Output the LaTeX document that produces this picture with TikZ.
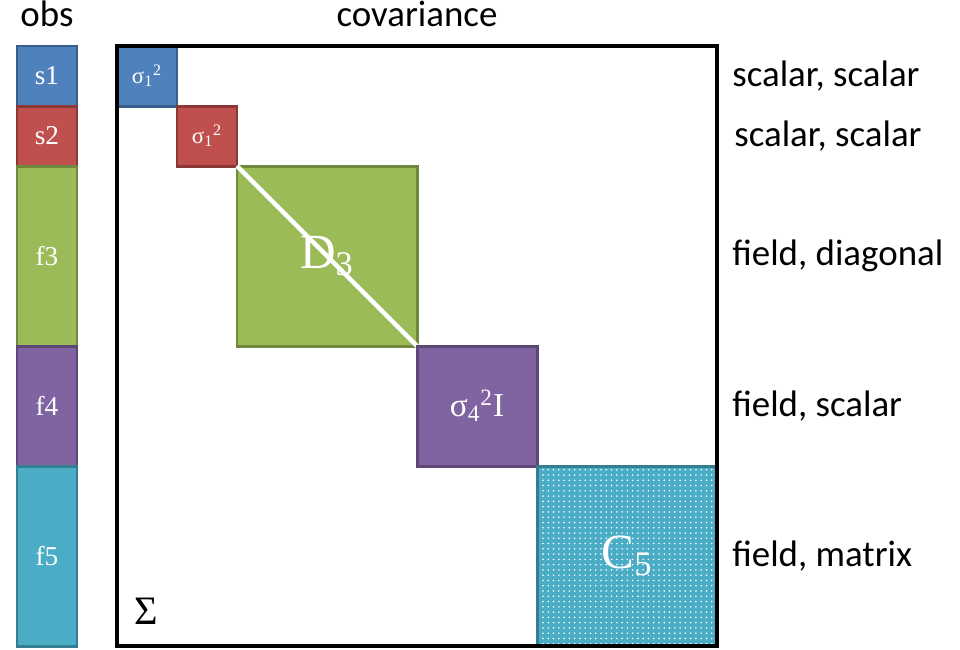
\documentclass[tikz,border=0pt]{standalone}
\usepackage{fontspec}
\setmainfont{Carlito}
\newfontfamily\cellfont{Liberation Serif}
\usepackage{tikz}
\usetikzlibrary{positioning,patterns}

\definecolor{sblue}{HTML}{4F81BD}
\definecolor{sblueline}{HTML}{385D8A}
\definecolor{sred}{HTML}{C0504D}
\definecolor{sredline}{HTML}{8C3836}
\definecolor{sgreen}{HTML}{9BBB59}
\definecolor{sgreenline}{HTML}{71893F}
\definecolor{spurple}{HTML}{8064A2}
\definecolor{spurpleline}{HTML}{5C4776}
\definecolor{steal}{HTML}{4BACC6}
\definecolor{stealline}{HTML}{357D91}

\begin{document}
\begin{tikzpicture}
[node distance = 0cm, font=\fontsize{21}{24}\selectfont,
% STYLES
% The obsbox style is used for the observation column
obsbox/.style={rectangle, draw, line width=1.7pt, inner sep=0pt, outer sep=0pt, minimum width=1.2cm, text=white, font=\cellfont\fontsize{15.5}{18}\selectfont},
% The block style is used for the blocks of the covariance
block/.style={rectangle, draw, line width=1.7pt, inner sep=0pt, outer sep=0pt, text=white, font=\cellfont\fontsize{19}{21}\selectfont},
% The note style is used for the kinds on the right
note/.style={rectangle, inner sep=0pt, anchor=west, xshift=0.3cm},
title/.style={rectangle, inner sep=0pt}]

\useasboundingbox (0,0) rectangle (19.2,-12.98);

% Draw observations
\node [obsbox, fill=sblue, draw=sblueline, minimum height=1.2cm] (s1) at (0.94,-1.52) {s1};
\node [obsbox, fill=sred, draw=sredline, minimum height=1.2cm, below=of s1] (s2) {s2};
\node [obsbox, fill=sgreen, draw=sgreenline, minimum height=3.6cm, below=of s2] (f3) {f3};
\node [obsbox, fill=spurple, draw=spurpleline, minimum height=2.4cm, below=of f3] (f4) {f4};
\node [obsbox, fill=steal, draw=stealline, minimum height=3.6cm, below=of f4] (f5) {f5};
\node [title, above=0.38cm of s1] (obs) {obs};

% Draw covariance
\node [rectangle, draw, line width=2pt, inner sep=0pt, outer sep=0pt, minimum width=12cm, minimum height=12cm] (frame) at (8.34,-6.92) {};
\node [title, above=0.38cm of frame] (cov) {covariance};

\node [block, fill=sblue, draw=sblueline, minimum width=1.2cm, minimum height=1.2cm, anchor=north west, font=\cellfont\fontsize{13}{15}\selectfont] (sig1) at (frame.north west) {σ\textsubscript{1}\textsuperscript{2}};
\node [block, fill=sred, draw=sredline, minimum width=1.2cm, minimum height=1.2cm, below right=of sig1, font=\cellfont\fontsize{13}{15}\selectfont] (sig2) {σ\textsubscript{1}\textsuperscript{2}};
\node [block, fill=sgreen, draw=sgreenline, minimum width=3.6cm, minimum height=3.6cm, below right=of sig2] (diag3) {};
\draw [white, line width=2.5pt] (diag3.north west) -- (diag3.south east);
\node [title, text=white, font=\cellfont\fontsize{28}{30}\selectfont] (dlab) at (diag3.center) {D\textsubscript{3}};
\node [block, fill=spurple, draw=spurpleline, minimum width=2.4cm, minimum height=2.4cm, below right=of diag3] (sig4) {σ\textsubscript{4}\textsuperscript{2}I};
\node [block, preaction={fill=steal}, pattern=dots, pattern color=white, draw=stealline, minimum width=3.6cm, minimum height=3.6cm, below right=of sig4, font=\cellfont\fontsize{28}{30}\selectfont] (mat5) {C\textsubscript{5}};
\draw [line width=2pt] (frame.north west) rectangle (frame.south east);
\node [title, anchor=south west, font=\cellfont\fontsize{23}{25}\selectfont] (sigma) at ([xshift=0.34cm, yshift=0.42cm]frame.south west) {Σ};

% Kinds of each observation
\node [note] at (frame.east |- s1) {scalar, scalar};
\node [note, xshift=0.04cm] at (frame.east |- s2) {scalar, scalar};
\node [note] at (frame.east |- f3) {field, diagonal};
\node [note] at (frame.east |- f4) {field, scalar};
\node [note] at (frame.east |- f5) {field, matrix};

\end{tikzpicture}
\end{document}
